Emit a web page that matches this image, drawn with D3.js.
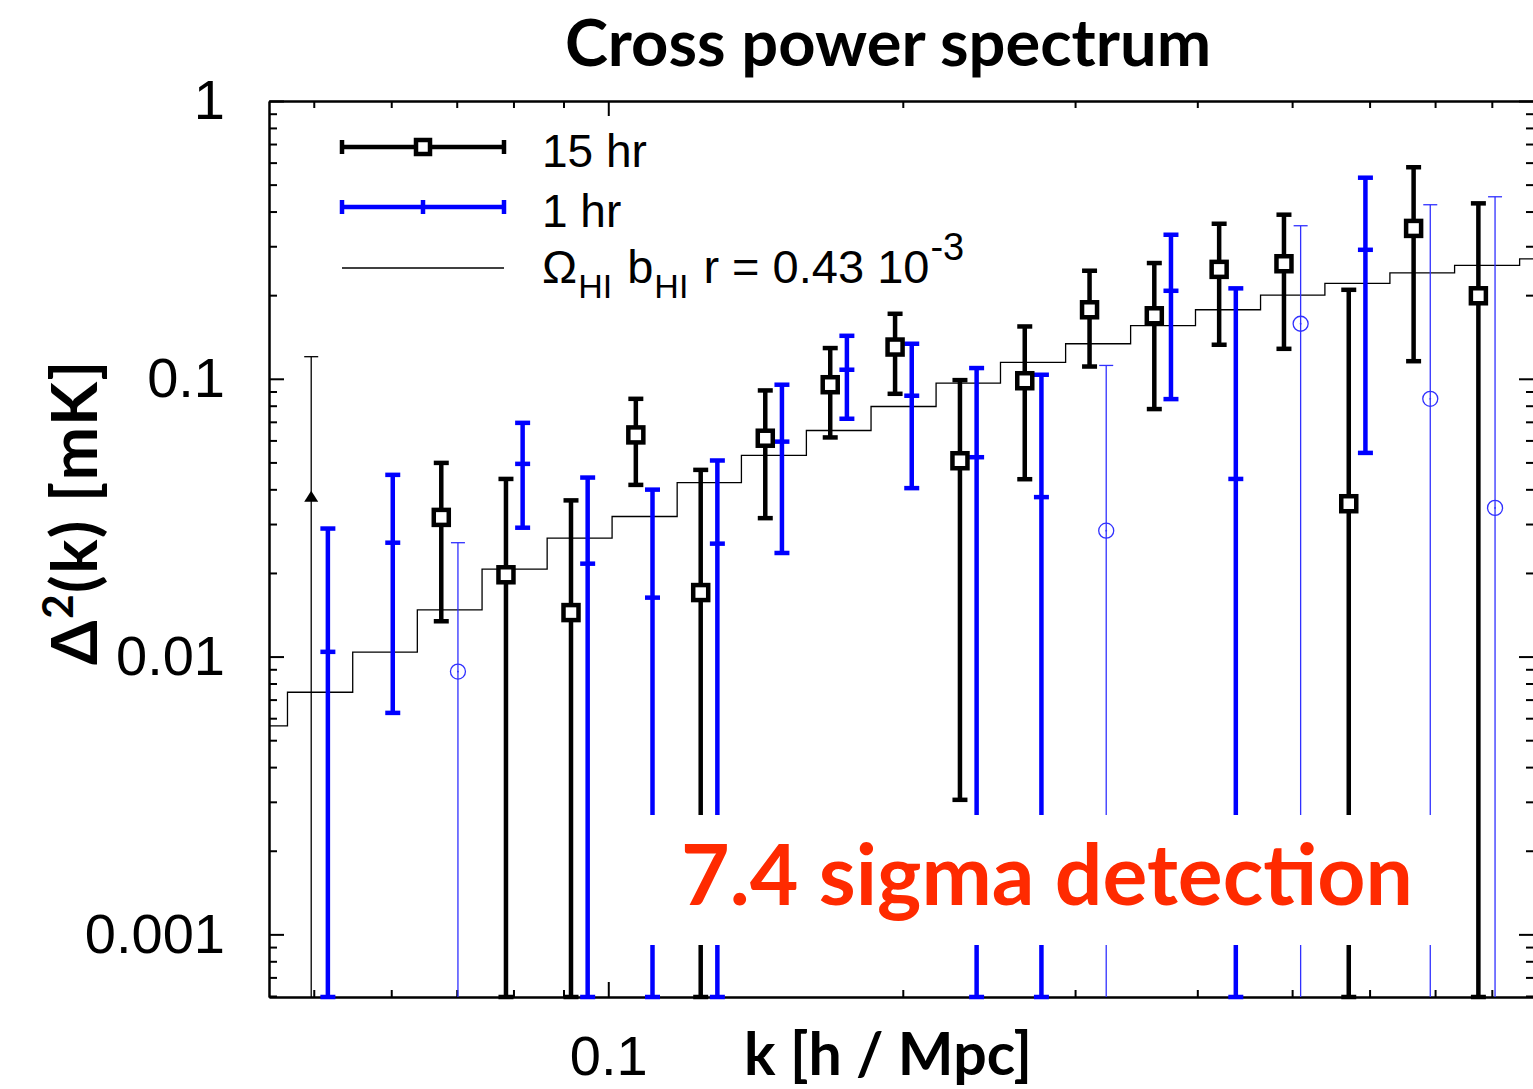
<!DOCTYPE html>
<head>
<meta charset="utf-8">
<title>Cross power spectrum</title>
<style>
body { margin: 0; background: #fff; }
.axis path, .axis line { stroke: #000; stroke-width: 2px; }
.axis text { font-family: "Liberation Sans", Arial, sans-serif; font-size: 56px; fill: #000; }
.title, .xlabel, .ylabel { font-family: Lato, "DejaVu Sans", sans-serif; font-weight: 700; fill: #000; }
.legend text { font-family: "Liberation Sans", Arial, sans-serif; fill: #000; }
</style>
</head>
<body>
<script src="https://cdn.jsdelivr.net/npm/d3@7"></script>
<script>

// k bin centres [h/Mpc]
var kBins = [0.0497, 0.0579, 0.0675, 0.0786, 0.0916, 0.1067, 0.1243, 0.1447, 0.1686, 0.1964,
             0.2288, 0.2665, 0.3104, 0.3615, 0.4211, 0.4905, 0.5713, 0.6655, 0.7751];

// 15 hr field (black); lower bound 0 means the bar runs off the bottom
var hr15Val = [0.0376, null, 0.0317, 0.0197, 0.0144, 0.0628, 0.0170, 0.0611, 0.0952, 0.1301,
               0.0507, 0.0984, 0.1772, 0.1686, 0.2477, 0.2595, 0.0355, 0.3478, 0.1990];
var hr15Hi  = [0.1201, null, 0.0498, 0.0436, 0.0365, 0.0847, 0.0470, 0.0908, 0.1290, 0.1714,
               0.0989, 0.1543, 0.2449, 0.2610, 0.3615, 0.3897, 0.2091, 0.5775, 0.4281];
var hr15Lo  = [0, null, 0.0134, 0, 0, 0.0415, 0, 0.0315, 0.0615, 0.0883,
               0.00305, 0.0435, 0.1107, 0.0778, 0.1326, 0.1282, 0, 0.1157, 0];
var hr15Limit = [true, false, false, false, false, false, false, false, false, false,
                 false, false, false, false, false, false, false, false, false];

// 1 hr field (blue); negative points drawn as |value| with open circles
var hr1Val = [0.0104, 0.0257, 0.00883, 0.0494, 0.0216, 0.0163, 0.0255, 0.0594, 0.1078, 0.0869,
              0.0522, 0.0375, 0.0284, 0.2074, 0.0436, 0.1578, 0.2913, 0.0847, 0.0343];
var hr1Hi  = [0.0289, 0.0451, 0.0257, 0.0694, 0.0441, 0.0399, 0.0508, 0.0952, 0.1428, 0.1337,
              0.1093, 0.1034, 0.1117, 0.3300, 0.2116, 0.3556, 0.5295, 0.4232, 0.4521];
var hr1Lo  = [0, 0.00627, 0, 0.0291, 0, 0, 0, 0.0236, 0.0718, 0.0404,
              0, 0, 0, 0.0845, 0, 0, 0.0541, 0, 0];
var hr1Negative = [false, false, true, false, false, false, false, false, false, false,
                   false, false, true, false, false, true, false, true, true];

// model: Omega_HI b_HI r = 0.43e-3, step starts and values
var modelK   = [0.045, 0.0470, 0.0548, 0.0638, 0.0743, 0.0866, 0.1009, 0.1176, 0.1368, 0.1594,
                0.1856, 0.2163, 0.2517, 0.2934, 0.3419, 0.3983, 0.4642, 0.5401, 0.6294, 0.7329, 0.8541];
var modelVal = [0.00563, 0.00744, 0.01037, 0.01473, 0.02064, 0.02669, 0.03193, 0.04232, 0.05303, 0.06514,
                0.07948, 0.09650, 0.1145, 0.1337, 0.1555, 0.1772, 0.2000, 0.2206, 0.2404, 0.2559, 0.2704];

var yMajor = [0.001, 0.01, 0.1, 1];
var xLabelTicks = [0.1];

var width = 1533, height = 1089;
var pLeft = 269, pTop = 101, pRight = 1534, pBottom = 997;
var blueShift = 1.04;  // 1 hr points are offset a little to the right

var x = d3.scaleLog().domain([0.045, 0.8835]).range([pLeft, pRight]);
var y = d3.scaleLog().domain([0.000595, 1]).range([pBottom, pTop]);

var svg = d3.select("body").append("svg")
    .attr("width", width)
    .attr("height", height);

svg.append("defs").append("clipPath").attr("id", "plot")
  .append("rect")
    .attr("x", pLeft).attr("y", pTop)
    .attr("width", pRight - pLeft).attr("height", pBottom - pTop);

// minor ticks: everything d3 gives that is not a decade
function minors(scale) {
  return scale.ticks().filter(function(v) {
    var l = Math.log10(v);
    return Math.abs(l - Math.round(l)) > 1e-6;
  });
}

function tickAxis(axisFn, scale, values, size, transform) {
  svg.append("g")
      .attr("class", "axis")
      .attr("transform", transform)
      .call(axisFn(scale).tickValues(values).tickSize(size).tickSizeOuter(0).tickFormat(""));
}

// left axis with labels
svg.append("g")
    .attr("class", "axis")
    .attr("transform", "translate(" + pLeft + ",0)")
    .call(d3.axisLeft(y).tickValues(yMajor).tickSize(-15).tickSizeOuter(0).tickPadding(44)
      .tickFormat(function(d) { return d >= 1 ? "1" : String(+d.toPrecision(1)); }));
tickAxis(d3.axisLeft, y, minors(y), -8, "translate(" + pLeft + ",0)");

// right axis
tickAxis(d3.axisRight, y, yMajor, -15, "translate(" + pRight + ",0)");
tickAxis(d3.axisRight, y, minors(y), -8, "translate(" + pRight + ",0)");

// bottom axis
svg.append("g")
    .attr("class", "axis")
    .attr("transform", "translate(0," + pBottom + ")")
    .call(d3.axisBottom(x).tickValues(xLabelTicks).tickSize(-15).tickSizeOuter(0).tickPadding(38)
      .tickFormat(d3.format(".1f")));
tickAxis(d3.axisBottom, x, minors(x), -7, "translate(0," + pBottom + ")");

// top axis
tickAxis(d3.axisTop, x, xLabelTicks, -15, "translate(0," + pTop + ")");
tickAxis(d3.axisTop, x, minors(x), -7, "translate(0," + pTop + ")");

// model step line
var modelPts = modelK.map(function(k, i) { return [k, modelVal[i]]; });
modelPts.push([x.domain()[1], modelVal[modelVal.length - 1]]);
svg.append("path")
    .datum(modelPts)
    .attr("clip-path", "url(#plot)")
    .attr("fill", "none")
    .attr("stroke", "#000")
    .attr("stroke-width", 1.3)
    .attr("d", d3.line()
      .x(function(d) { return x(d[0]); })
      .y(function(d) { return y(d[1]); })
      .curve(d3.curveStepAfter));

function lowY(v) { return v > 0 ? y(v) : pBottom; }

function errorBars(rows, color, thick) {
  var g = svg.append("g");
  var sw = thick ? 4.5 : 1.3, cap = thick ? 7.5 : 7;
  g.selectAll("line.bar").data(rows).enter().append("line")
      .attr("x1", function(d) { return d.x; }).attr("x2", function(d) { return d.x; })
      .attr("y1", function(d) { return y(d.hi); }).attr("y2", function(d) { return lowY(d.lo); })
      .attr("stroke", color).attr("stroke-width", sw);
  g.selectAll("line.top").data(rows).enter().append("line")
      .attr("x1", function(d) { return d.x - cap; }).attr("x2", function(d) { return d.x + cap; })
      .attr("y1", function(d) { return y(d.hi); }).attr("y2", function(d) { return y(d.hi); })
      .attr("stroke", color).attr("stroke-width", sw);
  // thin bars that leave the plot get no bottom cap
  g.selectAll("line.bot").data(rows.filter(function(d) { return thick || d.lo > 0; })).enter().append("line")
      .attr("x1", function(d) { return d.x - cap; }).attr("x2", function(d) { return d.x + cap; })
      .attr("y1", function(d) { return lowY(d.lo); }).attr("y2", function(d) { return lowY(d.lo); })
      .attr("stroke", color).attr("stroke-width", sw);
  return g;
}

// 1 hr rows
var hr1 = kBins.map(function(k, i) {
  return { x: x(k * blueShift), v: hr1Val[i], hi: hr1Hi[i], lo: hr1Lo[i], neg: hr1Negative[i] };
});
var hr1Thick = hr1.filter(function(d) { return !d.neg; });
var hr1Thin = hr1.filter(function(d) { return d.neg; });

errorBars(hr1Thin, "#3030ff", false);
var gc = svg.append("g");
gc.selectAll("circle.o").data(hr1Thin).enter().append("circle")
    .attr("cx", function(d) { return d.x; }).attr("cy", function(d) { return y(d.v); })
    .attr("r", 7.5).attr("fill", "none").attr("stroke", "#3030ff").attr("stroke-width", 1.3);
gc.selectAll("circle.c").data(hr1Thin).enter().append("circle")
    .attr("cx", function(d) { return d.x; }).attr("cy", function(d) { return y(d.v); })
    .attr("r", 0.9).attr("fill", "#3030ff");

var gb = errorBars(hr1Thick, "#0000ff", true);
gb.selectAll("line.mid").data(hr1Thick).enter().append("line")
    .attr("x1", function(d) { return d.x - 7.5; }).attr("x2", function(d) { return d.x + 7.5; })
    .attr("y1", function(d) { return y(d.v); }).attr("y2", function(d) { return y(d.v); })
    .attr("stroke", "#0000ff").attr("stroke-width", 4.5);

// 15 hr rows
var hr15 = [];
kBins.forEach(function(k, i) {
  if (hr15Val[i] === null) return;
  hr15.push({ x: x(k), v: hr15Val[i], hi: hr15Hi[i], lo: hr15Lo[i], limit: hr15Limit[i] });
});
var hr15Thin = hr15.filter(function(d) { return d.limit; });
var hr15Thick = hr15.filter(function(d) { return !d.limit; });

errorBars(hr15Thin, "#000", false)
  .selectAll("path.tri").data(hr15Thin).enter().append("path")
    .attr("transform", function(d) { return "translate(" + d.x + "," + y(d.v) + ")"; })
    .attr("d", "M0,-6L7,5L-7,5Z")
    .attr("fill", "#000");

errorBars(hr15Thick, "#000", true)
  .selectAll("rect.sq").data(hr15Thick).enter().append("rect")
    .attr("x", function(d) { return d.x - 7.5; }).attr("y", function(d) { return y(d.v) - 7.5; })
    .attr("width", 15).attr("height", 15)
    .attr("fill", "#fff").attr("stroke", "#000").attr("stroke-width", 4.5);

// annotation box
svg.append("rect")
    .attr("x", 636).attr("y", 815)
    .attr("width", 840).attr("height", 130)
    .attr("fill", "#fff");
svg.append("text")
    .attr("class", "title")
    .attr("x", 681).attr("y", 905)
    .style("font-size", "84px")
    .style("fill", "#ff2a00")
    .text("7.4 sigma detection");

// legend
var lg = svg.append("g").attr("class", "legend");
var lx1 = 342, lx2 = 504, lxm = 423;

lg.append("line").attr("x1", lx1).attr("x2", lx2).attr("y1", 147).attr("y2", 147)
    .attr("stroke", "#000").attr("stroke-width", 4.5);
[lx1, lx2].forEach(function(px) {
  lg.append("line").attr("x1", px).attr("x2", px).attr("y1", 140).attr("y2", 154)
      .attr("stroke", "#000").attr("stroke-width", 4.5);
});
lg.append("rect").attr("x", lxm - 7).attr("y", 140).attr("width", 14).attr("height", 14)
    .attr("fill", "#fff").attr("stroke", "#000").attr("stroke-width", 4.5);

lg.append("line").attr("x1", lx1).attr("x2", lx2).attr("y1", 207).attr("y2", 207)
    .attr("stroke", "#0000ff").attr("stroke-width", 4.5);
[lx1, lxm, lx2].forEach(function(px) {
  lg.append("line").attr("x1", px).attr("x2", px).attr("y1", 200).attr("y2", 214)
      .attr("stroke", "#0000ff").attr("stroke-width", 4.5);
});

lg.append("line").attr("x1", lx1).attr("x2", lx2).attr("y1", 268).attr("y2", 268)
    .attr("stroke", "#000").attr("stroke-width", 1.3);

lg.append("text").attr("x", 542).attr("y", 167).style("font-size", "46px").text("15 hr");
lg.append("text").attr("x", 542).attr("y", 227).style("font-size", "46px").text("1 hr");
var t3 = lg.append("text").attr("x", 542).attr("y", 283).style("font-size", "47px");
t3.append("tspan").text("\u03A9");
t3.append("tspan").attr("dy", 15).attr("dx", 1).style("font-size", "34px").text("HI");
t3.append("tspan").attr("dy", -15).attr("dx", 2).text(" b");
t3.append("tspan").attr("dy", 15).attr("dx", 1).style("font-size", "34px").text("HI");
t3.append("tspan").attr("dy", -15).attr("dx", 2).text(" r = 0.43 10");
t3.append("tspan").attr("dy", -23).attr("dx", 1).style("font-size", "38px").text("-3");

// titles
svg.append("text")
    .attr("class", "title")
    .attr("x", 888).attr("y", 66)
    .attr("text-anchor", "middle")
    .style("font-size", "65px")
    .text("Cross power spectrum");

svg.append("text")
    .attr("class", "xlabel")
    .attr("x", 888).attr("y", 1075)
    .attr("text-anchor", "middle")
    .style("font-size", "59px")
    .text("k [h / Mpc]");

var yl = svg.append("text")
    .attr("class", "ylabel")
    .attr("transform", "translate(97,512) rotate(-90)")
    .attr("text-anchor", "middle")
    .style("font-size", "64px")
    .style("letter-spacing", "1.5px");
yl.append("tspan").text("\u0394");
yl.append("tspan").attr("dy", -24).style("font-size", "42px").text("2");
yl.append("tspan").attr("dy", 24).text("(k) [mK]");

</script>
</body>
